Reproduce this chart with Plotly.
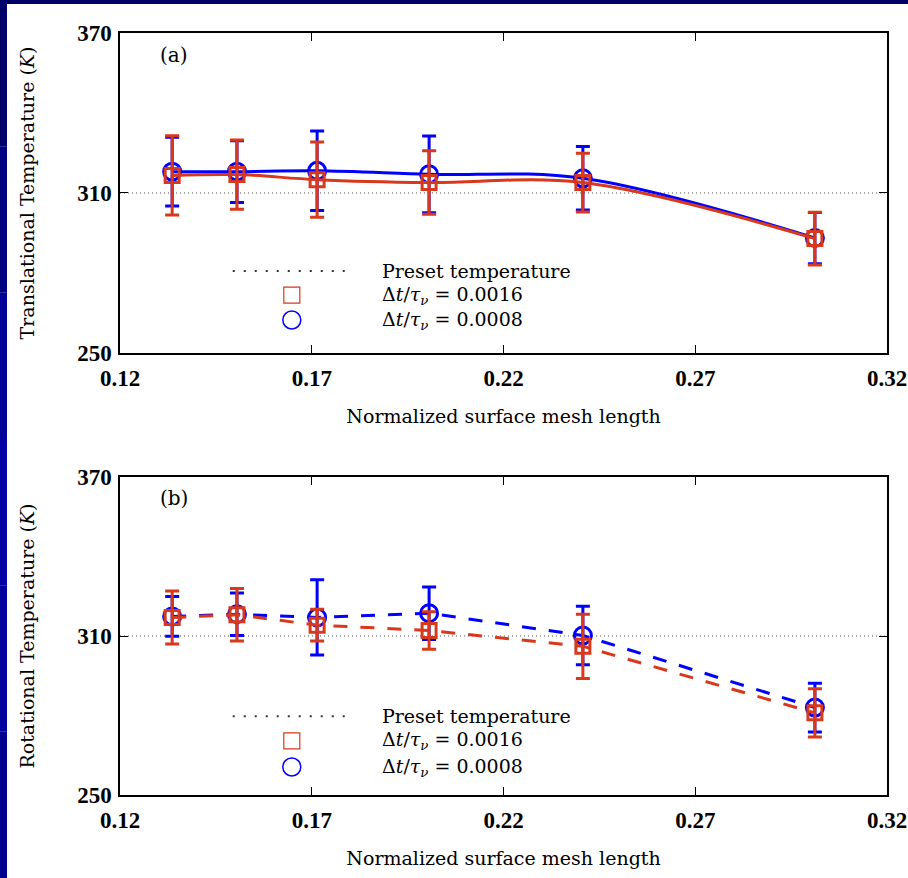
import plotly.graph_objects as go

# ---------------- data ----------------
mesh_length = [0.1336, 0.1505, 0.1714, 0.2006, 0.2407, 0.3012]

trans_0016 = [316.6, 316.9, 315.0, 313.9, 313.9, 292.9]
trans_0016_err = [14.9, 13.0, 14.1, 11.9, 11.0, 9.9]
trans_0008 = [318.0, 318.0, 318.3, 317.0, 315.5, 293.1]
trans_0008_err = [12.9, 11.6, 14.9, 14.4, 11.9, 9.6]

rot_0016 = [317.0, 318.0, 314.1, 312.1, 306.1, 281.0]
rot_0016_err = [10.0, 9.9, 6.0, 7.1, 12.1, 9.1]
rot_0008 = [317.4, 318.2, 317.0, 318.6, 310.2, 283.0]
rot_0008_err = [7.5, 8.0, 14.2, 9.9, 11.0, 9.2]

preset_x = [0.12, 0.32]
preset_T = [310, 310]

x_ticks = [0.12, 0.17, 0.22, 0.27, 0.32]
y_ticks = [250, 310, 370]

RED = "#d8381c"
BLUE = "#0000ff"
SERIF = "DejaVu Serif"
TICKFONT = dict(family="Liberation Serif", size=23, color="black", weight="bold")

fig = go.Figure()

def add_panel(xa, ya, red_y, red_e, blue_y, blue_e, shape, dash):
    fig.add_trace(go.Scatter(
        x=preset_x, y=preset_T, mode="lines", xaxis=xa, yaxis=ya,
        line=dict(color="#555555", width=1, dash="1px,3px"), showlegend=False))
    line_blue = dict(color=BLUE, width=3, dash=dash, shape=shape)
    line_red = dict(color=RED, width=3, dash=dash, shape=shape)
    if shape == "spline":
        line_blue["smoothing"] = 1.0
        line_red["smoothing"] = 1.0
    fig.add_trace(go.Scatter(
        x=mesh_length, y=blue_y, mode="lines+markers", xaxis=xa, yaxis=ya,
        line=line_blue,
        marker=dict(symbol="circle-open", size=17, color=BLUE, line=dict(width=3, color=BLUE)),
        error_y=dict(type="data", array=blue_e, color=BLUE, thickness=3, width=7),
        showlegend=False))
    fig.add_trace(go.Scatter(
        x=mesh_length, y=red_y, mode="lines+markers", xaxis=xa, yaxis=ya,
        line=line_red,
        marker=dict(symbol="square-open", size=14, color=RED, line=dict(width=3, color=RED)),
        error_y=dict(type="data", array=red_e, color=RED, thickness=3, width=7),
        showlegend=False))

add_panel("x", "y", trans_0016, trans_0016_err, trans_0008, trans_0008_err, "spline", "solid")
add_panel("x2", "y2", rot_0016, rot_0016_err, rot_0008, rot_0008_err, "linear", "14px,13px")

axis_common = dict(
    showgrid=False, zeroline=False, showline=True, linecolor="black", linewidth=1.5,
    mirror="ticks", ticks="inside", ticklen=8, tickwidth=1, tickcolor="black",
    tickfont=TICKFONT, automargin=False,
)

xtitle = dict(text="Normalized surface mesh length", font=dict(family=SERIF, size=19, color="black"), standoff=19)

fig.update_layout(
    width=908, height=878,
    paper_bgcolor="white", plot_bgcolor="white",
    margin=dict(l=120, r=21, t=33, b=83),
    showlegend=False,
    xaxis=dict(axis_common, domain=[0, 1], range=[0.12, 0.32], tickvals=x_ticks,
               ticktext=[f"{v:.2f}" for v in x_ticks], anchor="y", title=xtitle,
               ticklabelstandoff=4),
    yaxis=dict(axis_common, domain=[0.5801, 1], range=[250, 370], tickvals=y_ticks,
               anchor="x", ticklabelstandoff=2,
               title=dict(text="Translational Temperature (<i>K</i>)",
                          font=dict(family=SERIF, size=19, color="black"), standoff=37)),
    xaxis2=dict(axis_common, domain=[0, 1], range=[0.12, 0.32], tickvals=x_ticks,
                ticktext=[f"{v:.2f}" for v in x_ticks], anchor="y2", title=xtitle,
                ticklabelstandoff=4),
    yaxis2=dict(axis_common, domain=[0, 0.4173], range=[250, 370], tickvals=y_ticks,
                anchor="x2", ticklabelstandoff=2,
                title=dict(text="Rotational Temperature (<i>K</i>)",
                           font=dict(family=SERIF, size=19, color="black"), standoff=37)),
)

shapes = []
annotations = []

# Navy frame bands (top and left edges)
shapes.append(dict(type="rect", xref="paper", yref="paper", x0=-0.16, x1=1.05,
                   y0=(795 - 4) / 762, y1=(795 + 10) / 762, fillcolor="#000066",
                   line=dict(width=0), layer="above"))
band_cols = ["#000068", "#000080", "#000098", "#0000a4", "#00009c", "#000090"]
n = len(band_cols)
for i, c in enumerate(band_cols):
    y_top = i * 878 / n
    y_bot = (i + 1) * 878 / n
    shapes.append(dict(type="rect", xref="paper", yref="paper",
                       x0=-0.17, x1=(7 - 120) / 767,
                       y0=(795 - y_bot) / 762, y1=(795 - y_top) / 762,
                       fillcolor=c, line=dict(width=0), layer="above"))

def legend(xr, yr, y_pre, y_sq, y_ci):
    shapes.append(dict(type="line", xref=xr, yref=yr, x0=0.147, x1=0.300, y0=y_pre, y1=y_pre,
                       line=dict(color="#333333", width=2, dash="2px,9px")))
    shapes.append(dict(type="rect", xref=xr, yref=yr, xsizemode="pixel", ysizemode="pixel",
                       xanchor=0.224, yanchor=y_sq, x0=-8, x1=8, y0=-8, y1=8,
                       line=dict(color=RED, width=1.2)))
    shapes.append(dict(type="circle", xref=xr, yref=yr, xsizemode="pixel", ysizemode="pixel",
                       xanchor=0.224, yanchor=y_ci, x0=-9, x1=9, y0=-9, y1=9,
                       line=dict(color=BLUE, width=1.5)))
    for yy, txt in [(y_pre, "Preset temperature"),
                    (y_sq, "Δ<i>t</i>/<i>τ</i><sub><i>ν</i></sub> = 0.0016"),
                    (y_ci, "Δ<i>t</i>/<i>τ</i><sub><i>ν</i></sub> = 0.0008")]:
        annotations.append(dict(xref=xr, yref=yr, x=0.339, y=yy, text=txt, showarrow=False,
                                xanchor="left", yanchor="middle",
                                font=dict(family=SERIF, size=19, color="black")))

legend("x domain", "y domain", 0.256, 0.181, 0.103)
legend("x2 domain", "y2 domain", 0.248, 0.170, 0.088)

annotations.append(dict(xref="x domain", yref="y domain", x=0.05, y=0.93, text="(a)",
                        showarrow=False, xanchor="left", yanchor="middle",
                        font=dict(family=SERIF, size=20, color="black")))
annotations.append(dict(xref="x2 domain", yref="y2 domain", x=0.05, y=0.933, text="(b)",
                        showarrow=False, xanchor="left", yanchor="middle",
                        font=dict(family=SERIF, size=20, color="black")))

fig.update_layout(shapes=shapes, annotations=annotations)

fig.write_html("out.html",
               config={"displayModeBar": False},
               post_script="document.body.style.margin='0';document.body.style.overflow='hidden';")
